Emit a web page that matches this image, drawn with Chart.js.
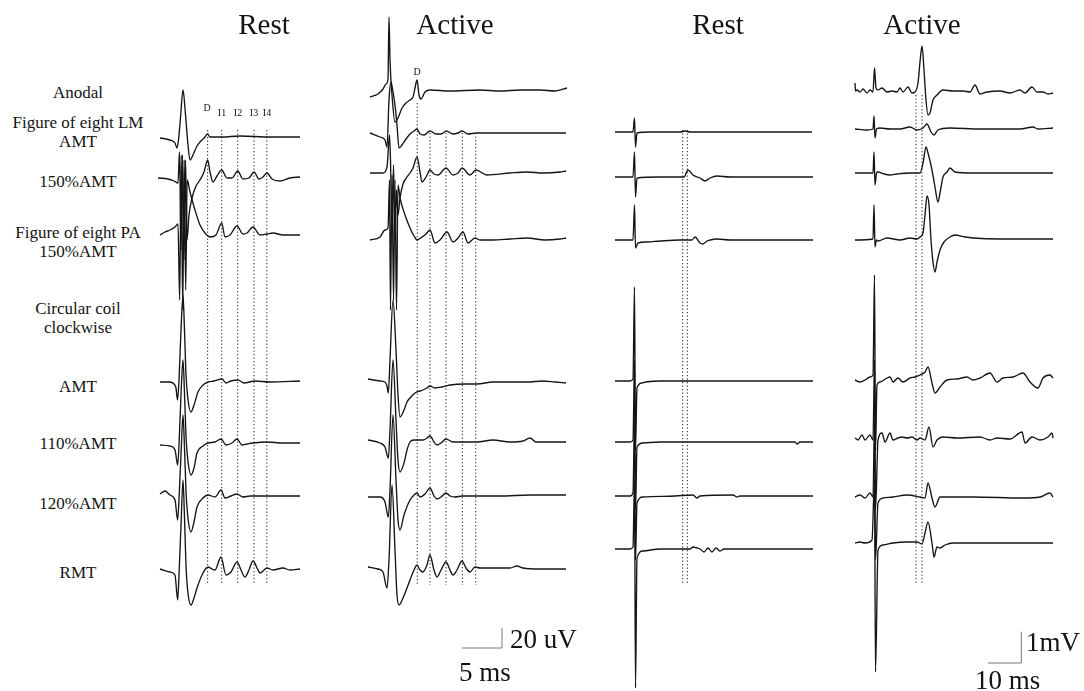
<!DOCTYPE html>
<html><head><meta charset="utf-8">
<script src="https://cdn.jsdelivr.net/npm/chart.js@4.4.1/dist/chart.umd.min.js"></script>
<style>
html,body{margin:0;padding:0;background:#fff;}
#wrap{position:relative;width:1084px;height:691px;overflow:hidden;font-family:"Liberation Serif","DejaVu Serif",serif;color:#141414;}
canvas{position:absolute;top:0;}
.t{position:absolute;transform:translate(-50%,-50%);white-space:nowrap;line-height:1;}
.h{font-size:29px;}
.r{font-size:17px;text-align:center;line-height:19px;}
.s{font-size:10px;}
.b{font-size:27px;transform:translate(0,-50%);}
</style></head><body><div id="wrap">
<canvas id="c1" style="left:150px" width="160" height="691"></canvas>
<canvas id="c2" style="left:360px" width="240" height="691"></canvas>
<canvas id="c3" style="left:605px" width="220" height="691"></canvas>
<canvas id="c4" style="left:845px" width="230" height="691"></canvas>

<div class="t h" style="left:264px;top:24px">Rest</div>
<div class="t h" style="left:455px;top:24px">Active</div>
<div class="t h" style="left:718px;top:24px">Rest</div>
<div class="t h" style="left:922px;top:24px">Active</div>

<div class="t r" style="left:78px;top:92px">Anodal</div>
<div class="t r" style="left:78px;top:132px">Figure of eight LM<br>AMT</div>
<div class="t r" style="left:78px;top:181px">150%AMT</div>
<div class="t r" style="left:78px;top:242px">Figure of eight PA<br>150%AMT</div>
<div class="t r" style="left:78px;top:318px">Circular coil<br>clockwise</div>
<div class="t r" style="left:78px;top:386px">AMT</div>
<div class="t r" style="left:78px;top:443px">110%AMT</div>
<div class="t r" style="left:78px;top:503px">120%AMT</div>
<div class="t r" style="left:78px;top:572px">RMT</div>

<div class="t s" style="left:207px;top:108px">D</div>
<div class="t s" style="left:222px;top:113px">I1</div>
<div class="t s" style="left:238px;top:113px">I2</div>
<div class="t s" style="left:254px;top:113px">I3</div>
<div class="t s" style="left:267px;top:113px">I4</div>
<div class="t s" style="left:417px;top:72px">D</div>

<div class="t b" style="left:510px;top:639px">20 uV</div>
<div class="t b" style="left:459px;top:672px">5 ms</div>
<div class="t b" style="left:1026px;top:642px">1mV</div>
<div class="t b" style="left:975px;top:680px">10 ms</div>
</div>
<script>
// ---------- DATA: [time (ms), amplitude] ----------
// Left panels: amplitude in uV (epidural volleys). Right panels: amplitude in uV (EMG).
// Left "Rest"
const lmRest = [[0.25,-1],[1.5,-3],[2.125,-6],[2.375,-11],[2.56,-3],[2.81,19],[3.125,47],[3.44,22],[3.75,-8],[4,-23],[4.375,-18],[4.875,-9],[5.5,-3],[5.875,0],[6.19,3],[6.5,0],[7.125,0],[8,0],[10.25,1],[14,0],[17.75,0]];
const p150Rest = [[0,0],[1.25,-1],[2,-3],[2.5,-5],[2.69,26],[2.875,-72],[3.06,23],[3.25,-82],[3.44,18],[3.625,-62],[3.875,-37],[4.25,-20],[4.75,-8],[5.25,-2],[5.75,6],[6.21,18],[6.5,6],[6.875,-4],[7.375,2],[7.96,8],[8.625,0],[9.25,0],[9.96,7],[10.625,-1],[11.375,0],[12,6],[12.625,-1],[13.125,1],[13.625,5],[14.25,-1],[15.25,-3],[16.5,0],[17.75,1]];
const paRest = [[0.25,0],[0.875,3],[1.5,5],[2.125,8],[2.5,11],[2.71,-65],[2.9,80],[3.09,-75],[3.275,75],[3.46,-55],[3.65,55],[4,43],[4.625,25],[5.25,10],[5.875,2],[6.5,-2],[7.25,0],[7.96,12],[8.375,-2],[9,0],[9.875,9],[10.625,1],[11.125,2],[11.875,8],[12.75,0],[13.625,1],[14.375,2],[15.625,0],[17.75,0]];
const amtRest = [[0.25,0],[1.5,0],[2,-2],[2.25,-6],[2.44,-18],[2.625,2],[2.875,52],[3.125,87],[3.31,52],[3.5,7],[3.75,-18],[4.125,-30],[4.5,-23],[5,-10],[5.625,-3],[6.25,0],[7,1],[8,3],[8.5,-1],[9.125,1],[10,2],[10.75,-1],[12.125,1],[14,0],[17.75,1]];
const a110Rest = [[0.25,-1],[1.5,-2],[2.125,-6],[2.46,-21],[2.65,4],[2.9,54],[3.125,84],[3.34,44],[3.525,4],[3.775,-19],[4.125,-31],[4.5,-24],[4.875,-9],[5.625,-2],[6.25,1],[7.125,2],[7.875,5],[8.5,-1],[9.25,1],[9.875,5],[10.5,-1],[11.125,0],[11.875,1],[13.625,2],[15.625,1],[17.75,1]];
const a120Rest = [[0.25,3],[0.875,6],[1.5,2],[2.125,-3],[2.46,-23],[2.65,2],[2.9,47],[3.125,82],[3.34,42],[3.525,2],[3.775,-23],[4.125,-35],[4.5,-25],[4.875,-10],[5.625,-1],[6.25,2],[7.125,0],[7.875,7],[8.375,-1],[9.125,1],[9.875,3],[10.625,0],[11.5,1],[13.625,1],[17.75,1]];
const rmtRest = [[0.25,1],[1.5,-2],[2.125,-5],[2.46,-30],[2.65,0],[2.9,50],[3.125,90],[3.34,45],[3.525,0],[3.775,-25],[4.125,-35],[4.5,-28],[4.875,-18],[5.625,-3],[6.25,3],[6.75,1],[7.125,0],[7.875,13],[8.5,-5],[9.125,-2],[9.875,8],[10.375,0],[10.875,-7],[11.375,0],[11.875,9],[12.5,0],[12.75,-3],[13.625,2],[14.375,0],[15.625,2],[16.5,0],[17.75,1]];
// Left "Active"
const anodalAct = [[0.25,-7],[1.25,-4],[1.875,1],[2.25,6],[2.5,11],[2.625,73],[2.75,30],[3,-5],[3.375,-32],[3.75,-28],[4.25,-18],[4.75,-13],[5.25,-10],[5.625,-7],[5.875,2],[6.125,10],[6.375,-5],[6.625,-9],[7.125,-2],[7.75,0],[10.25,-1],[14,0],[16.5,-1],[19,0],[21.5,0],[23.375,-1],[24.875,2]];
const lmAct = [[0.25,0],[1.5,-4],[2.125,-7],[2.375,-14],[2.625,33],[2.875,51],[3.125,41],[3.375,28],[3.625,8],[3.875,-15],[4.25,-12],[4.75,-6],[5.25,-1],[5.75,2],[6.125,4],[6.5,-1],[7,-2],[7.75,2],[8.5,-1],[9.125,-1],[9.81,2],[10.625,-1],[11.25,0],[11.75,2],[12.5,-1],[13.5,0],[16.5,0],[20.25,0],[24.75,0]];
const p150Act = [[0.25,0],[1.875,0],[2.375,6],[2.69,38],[2.81,13],[3,-62],[3.19,8],[3.375,-67],[3.56,-17],[3.75,-42],[4,-25],[4.375,-11],[4.875,-4],[5.25,0],[5.625,5],[6.125,16],[6.5,1],[6.75,-9],[7.25,-4],[7.75,3],[8.25,-1],[8.75,-2],[9.75,5],[10.625,-2],[11.25,0],[11.75,5],[12.75,-2],[13.5,3],[14.875,-2],[17.75,0],[19.875,1],[21.875,0],[24,1],[24.75,2]];
const paAct = [[0.25,0],[1.5,3],[2.125,10],[2.5,12],[2.69,60],[2.81,-70],[3,65],[3.19,-60],[3.375,60],[3.56,-70],[3.75,55],[4,42],[4.625,25],[5.25,12],[5.75,4],[6.125,0],[6.75,3],[7.25,6],[7.75,10],[8.375,-3],[9,0],[9.875,8],[10.625,-2],[11.25,2],[11.875,8],[12.5,-3],[13.375,2],[14,0],[15.625,0],[17.75,1],[19.875,2],[22.125,0],[24,1],[24.75,2]];
const amtAct = [[0,1],[1.5,-1],[2.125,-2],[2.375,-6],[2.54,-13],[2.75,20],[3.125,80],[3.5,30],[3.75,-15],[4,-37],[4.5,-30],[4.875,-22],[5.375,-17],[5.875,-13],[6.5,-11],[6.875,-10],[7.375,-8],[7.75,-6],[8.375,-8],[9.25,-7],[10.25,-5],[12.125,-4],[13.625,-4],[15.625,-2],[17.75,-2],[19.875,-2],[21.875,-1],[23.375,-2],[24.75,-3]];
const a110Act = [[0,2],[1.5,-1],[2.125,-5],[2.54,-16],[2.75,12],[3.125,82],[3.5,22],[3.75,-18],[4,-30],[4.5,-21],[4.875,-8],[5.25,0],[5.75,2],[6.25,2],[6.875,2],[7.375,4],[7.75,6],[8.25,0],[8.625,-3],[9.125,-1],[9.75,3],[10.625,0],[11.75,0],[13.625,0],[15.625,2],[17.75,0],[19.375,1],[20.25,4],[21,0],[22.75,0],[24.75,0]];
const a120Act = [[0,-1],[1.5,-1],[2.125,-6],[2.54,-21],[2.75,6],[3.125,81],[3.5,16],[3.75,-24],[4,-34],[4.5,-19],[5.25,-4],[5.75,1],[6.125,3],[6.5,-1],[7.125,2],[7.75,8],[8.25,0],[8.625,-3],[9.125,-1],[9.75,3],[10.25,0],[10.875,-1],[11.75,0],[13.625,0],[16.5,0],[20.25,1],[24.75,1]];
const rmtAct = [[0,1],[1.25,-1],[1.875,-4],[2.375,-20],[2.625,8],[3,83],[3.375,18],[3.625,-27],[3.875,-37],[4.375,-30],[4.875,-20],[5.25,-12],[5.75,-2],[6.125,3],[6.5,-2],[6.875,-4],[7.375,3],[7.75,13],[8.25,-2],[8.625,-9],[9.125,-2],[9.75,6],[10.25,-2],[10.625,-7],[11.125,-2],[11.75,7],[12.25,0],[12.75,-4],[13.375,1],[14,0],[15.875,0],[17.75,0],[18.625,2],[19.375,0],[21.5,-1],[24.75,-1]];
// Right "Rest" (EMG, uV)
const lmRR = [[0,0],[5.4,0],[5.85,448],[6.15,-480],[6.6,-32],[10.5,0],[19.5,0],[21,32],[22.5,0],[31.5,0],[59.1,0]];
const p150RR = [[0,0],[5.4,0],[5.85,800],[6.15,-640],[6.6,-32],[13.5,0],[20.7,0],[21.9,224],[23.4,64],[24.6,0],[25.5,-32],[27,-128],[28.5,-32],[30.6,32],[34.5,0],[59.4,0]];
const paRR = [[0,0],[5.4,0],[5.85,1120],[6.15,-256],[6.9,-96],[9.6,-64],[13.5,-32],[19.5,0],[23.1,0],[24,96],[25.5,-96],[26.4,-128],[27.6,-32],[28.5,0],[30.6,32],[34.5,0],[59.4,0]];
const amtRR = [[0,0],[4.5,0],[5.4,64],[5.85,3008],[6.15,-2208],[6.6,-224],[8.1,-64],[9.3,-32],[13.5,0],[59.4,0]];
const a110RR = [[0,0],[4.5,0],[5.4,64],[5.85,2624],[6.15,-2176],[6.6,-160],[8.4,-32],[13.5,0],[54,0],[54.6,-64],[55.5,0],[59.4,0]];
const a120RR = [[0,0],[4.5,0],[5.4,96],[5.85,2432],[6.15,-2048],[6.6,-224],[8.4,-32],[18,0],[23.4,32],[24.6,-64],[25.5,0],[35.4,32],[36.6,-32],[37.5,0],[59.4,0]];
const rmtRR = [[0,0],[4.5,0],[5.4,64],[5.85,2208],[6.15,-4448],[6.6,-288],[8.4,-64],[13.5,0],[22.5,0],[23.4,64],[24.6,32],[25.5,0],[26.7,-96],[27.9,32],[29.1,-96],[30.3,32],[31.5,-64],[32.7,0],[59.4,0]];
// Right "Active" (EMG, uV)
const anodalRA = [[0,256],[0.15,0],[0.6,32],[1.5,-32],[2.4,64],[3.6,-64],[4.5,32],[5.4,-32],[5.85,736],[6.3,96],[6.9,32],[8.1,96],[9.6,-32],[11.1,0],[12.6,-32],[13.5,96],[14.4,-32],[15.9,128],[17.1,-64],[18,-32],[18.9,256],[19.5,928],[20.1,1440],[20.7,672],[21.3,-288],[21.9,-768],[22.5,-704],[23.4,-288],[24.6,-128],[26.4,32],[29.4,0],[32.4,0],[34.5,-32],[36,192],[37.5,-96],[39.6,-32],[43.5,0],[46.5,-64],[49.5,32],[51,-64],[53.1,128],[54.6,-32],[56.4,-32],[57.9,-96],[59.4,-64]];
const lmRA = [[0,0],[3.6,-32],[5.4,0],[5.7,416],[6,-288],[6.45,0],[7.5,32],[10.5,0],[13.5,0],[16.5,64],[18.6,-32],[20.4,32],[21.6,160],[22.8,-96],[23.7,-192],[24.9,-32],[28.5,32],[37.5,0],[49.5,0],[53.4,64],[54.9,0],[59.4,32]];
const p150RA = [[0,0],[5.4,0],[5.7,672],[6,-384],[6.45,0],[6.9,32],[8.7,-32],[10.5,-64],[12.6,-32],[16.5,0],[19.5,0],[20.4,320],[21.3,832],[21.9,640],[23.1,96],[24,-448],[24.9,-928],[25.5,-640],[26.4,-128],[27.6,32],[28.5,160],[30,32],[35.4,0],[59.4,0]];
const paRA = [[0,-32],[5.4,0],[5.7,1088],[6,-256],[6.45,-32],[6.9,-64],[9.6,32],[13.5,-32],[16.5,32],[18.6,0],[19.5,64],[20.4,192],[21,768],[21.6,1376],[22.2,1088],[22.8,-32],[23.4,-736],[24,-1056],[24.6,-736],[25.5,-352],[26.7,-96],[28.5,64],[30,128],[33,64],[35.4,32],[43.5,0],[59.4,0]];
const amtRA = [[0,0],[1.5,-64],[3,0],[4.5,96],[5.4,160],[5.85,3360],[6.15,-2240],[6.6,-160],[7.5,-64],[9.6,64],[10.5,96],[11.4,-64],[12.9,64],[14.4,-64],[16.5,64],[18,96],[19.5,160],[21,256],[21.9,416],[23.1,-96],[24,-416],[25.5,-224],[27.6,0],[30.6,32],[33.6,96],[35.4,0],[37.5,64],[40.5,224],[42.6,-64],[44.4,64],[47.4,96],[50.4,224],[52.5,-64],[54.9,-256],[56.4,64],[58.5,160],[59.4,64]];
const a110RA = [[0,32],[0.9,-32],[2.1,128],[3,-32],[4.5,128],[5.4,-32],[5.85,2528],[6.15,-2272],[6.9,-32],[8.1,192],[9,-96],[10.5,192],[11.4,-32],[12.9,32],[14.1,64],[15.6,32],[17.1,64],[18.6,-32],[19.5,32],[21,-32],[22.2,384],[23.4,-256],[24.6,-32],[26.4,64],[30.6,32],[37.5,64],[40.5,-32],[42.6,32],[46.5,0],[50.1,224],[51,-128],[53.1,64],[55.5,-32],[57.9,64],[59.1,192],[59.4,32]];
const a120RA = [[0,0],[1.5,64],[3,-32],[4.5,128],[5.4,0],[5.85,2464],[6.15,-2016],[6.9,-192],[8.4,-32],[11.4,0],[15.6,64],[19.5,0],[21,-32],[21.9,448],[23.1,-32],[24,-320],[25.5,0],[35.4,0],[50.4,-32],[55.5,0],[58.5,128],[59.4,0]];
const rmtRA = [[0,0],[1.5,32],[3,0],[5.1,96],[5.85,2016],[6.15,-4128],[6.9,-224],[8.4,-64],[11.4,0],[15.6,32],[18.6,32],[20.1,-32],[21,320],[21.9,672],[23.1,0],[23.7,-448],[24.6,-128],[25.5,-160],[27,-64],[29.4,0],[35.4,0],[59.4,0]];

// Latencies of the marked waves (ms)
const latLeftRest = [6.2, 7.96, 9.96, 12, 13.6];
const latLeftAct = [6.16, 7.75, 9.75, 11.8, 13.46];
const latRightRest = [20.3, 21.7];
const latRightAct = [18.3, 20.1];
// Calibration bars
const barLeft = {ms: 5, uV: 20};
const barRight = {ms: 10, uV: 1000};

// ---------- LAYOUT (not data) ----------
const INK = '#151515';
function trace(points, base, k) {
  return {data: points.map(p => ({x: p[0], y: -base * k + p[1]})),
    borderColor: INK, borderWidth: 1.35, pointRadius: 0, fill: false,
    cubicInterpolationMode: 'monotone', clip: false};
}
function dotted(t, top, bottom, k) {
  return {data: [{x: t, y: -top * k}, {x: t, y: -bottom * k}],
    borderColor: '#333', borderWidth: 1.1, borderDash: [1.3, 2.2], pointRadius: 0, tension: 0, fill: false};
}
function bar(t0, ms, amp, yBase, k) {
  return {data: [{x: t0, y: -yBase * k}, {x: t0 + ms, y: -yBase * k}, {x: t0 + ms, y: -yBase * k + amp}],
    borderColor: '#777', borderWidth: 1, pointRadius: 0, tension: 0, fill: false};
}
function make(id, xmin, xmax, k, datasets) {
  new Chart(document.getElementById(id), {
    type: 'line', data: {datasets},
    options: {responsive: false, animation: false, devicePixelRatio: 1, events: [],
      layout: {padding: 0},
      plugins: {legend: {display: false}, tooltip: {enabled: false}, title: {display: false}},
      scales: {x: {type: 'linear', min: xmin, max: xmax, display: false},
               y: {type: 'linear', min: -691 * k, max: 0, display: false}}}
  });
}
// Panel 1: left Rest (1 px = 1 uV, 8 px/ms)
make('c1', -1, 19, 1, [
  trace(lmRest, 137, 1), trace(p150Rest, 178, 1), trace(paRest, 235, 1),
  trace(amtRest, 382, 1), trace(a110Rest, 444, 1), trace(a120Rest, 497, 1), trace(rmtRest, 570, 1),
  ...latLeftRest.map(t => dotted(t, 130, 585, 1))
]);
// Panel 2: left Active
make('c2', -1, 29, 1, [
  trace(anodalAct, 90, 1), trace(lmAct, 133, 1), trace(p150Act, 173, 1), trace(paAct, 240, 1),
  trace(amtAct, 380, 1), trace(a110Act, 442, 1), trace(a120Act, 496, 1), trace(rmtAct, 568, 1),
  ...latLeftAct.map((t, i) => dotted(t, i === 0 ? 103 : 133, 585, 1)),
  bar(11.75, barLeft.ms, barLeft.uV, 648, 1)
]);
// Panel 3: right Rest (1 px = 32 uV, 3.33 px/ms)
make('c3', -3, 63, 32, [
  trace(lmRR, 132, 32), trace(p150RR, 177, 32), trace(paRR, 240, 32),
  trace(amtRR, 381, 32), trace(a110RR, 442, 32), trace(a120RR, 496, 32), trace(rmtRR, 549, 32),
  ...latRightRest.map(t => dotted(t, 130, 583, 32))
]);
// Panel 4: right Active
make('c4', -3, 66, 32, [
  trace(anodalRA, 91, 32), trace(lmRA, 129, 32), trace(p150RA, 173, 32), trace(paRA, 239, 32),
  trace(amtRA, 380, 32), trace(a110RA, 439, 32), trace(a120RA, 497, 32), trace(rmtRA, 543, 32),
  ...latRightAct.map(t => dotted(t, 95, 585, 32)),
  bar(39.9, barRight.ms, barRight.uV, 663, 32)
]);
</script>
</body></html>
